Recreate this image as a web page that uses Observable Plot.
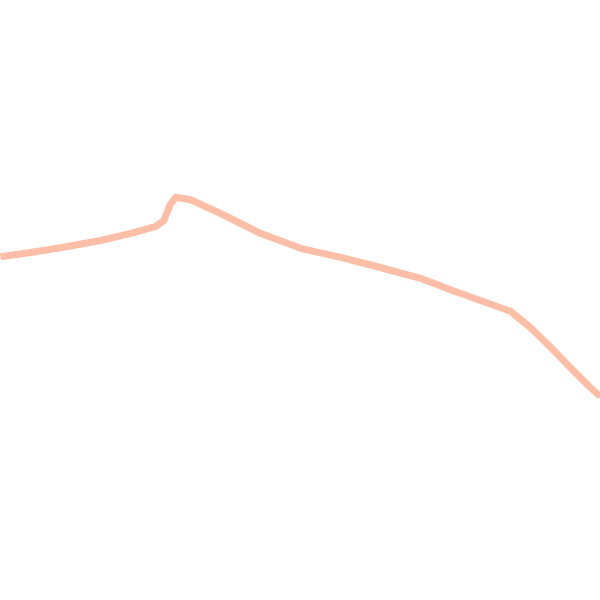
<!DOCTYPE html>
<html>
<head>
<meta charset="utf-8">
<script src="https://cdn.jsdelivr.net/npm/d3@7"></script>
<script src="https://cdn.jsdelivr.net/npm/@observablehq/plot@0.6"></script>
<style>
html,body{margin:0;padding:0;background:#fff;}
</style>
</head>
<body>
<div id="chart"></div>
<script>
const xs = [0, 5, 10, 16.7, 21.7, 25.8, 27.2, 28.3, 29.2, 31.7, 36.7, 43.3, 50, 56.7, 63.3, 70, 75, 80, 85, 88.3, 91.7, 95, 98.3, 100];
const ys = [57.3, 58, 58.8, 60, 61.2, 62.3, 63.3, 66, 67.2, 66.8, 64.5, 61.2, 58.7, 57.2, 55.5, 53.7, 51.8, 50, 48.2, 45.5, 42.2, 38.8, 35.5, 34];
const data = xs.map((x, i) => ({x, y: ys[i]}));
const chart = Plot.plot({
  width: 600,
  height: 600,
  margin: 0,
  x: {domain: [0, 100], axis: null},
  y: {domain: [0, 100], axis: null},
  marks: [
    Plot.line(data, {x: "x", y: "y", stroke: "#fcbea6", strokeWidth: 7, strokeLinejoin: "round", strokeLinecap: "butt"})
  ]
});
document.getElementById("chart").append(chart);
</script>
</body>
</html>
